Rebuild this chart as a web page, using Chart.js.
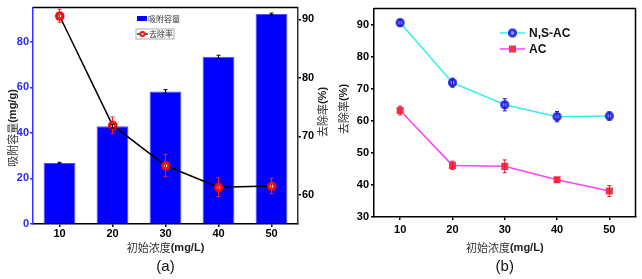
<!DOCTYPE html>
<html>
<head>
<meta charset="utf-8">
<script src="https://cdn.jsdelivr.net/npm/chart.js@4.4.1/dist/chart.umd.min.js"></script>
<style>
  body { margin: 0; background: #fff; }
  #wrap { position: relative; width: 642px; height: 279px; overflow: hidden; }
  canvas { position: absolute; top: 0; }
</style>
</head>
<body>
<div id="wrap">
  <canvas id="chartA" width="335" height="279" style="left:0"></canvas>
  <canvas id="chartB" width="322" height="279" style="left:320px"></canvas>
</div>
<script>
// data
const concentrations = [10, 20, 30, 40, 50];
const capacity = [26.8, 42.9, 58.2, 73.4, 92.2];
const capacityErr = [0.3, 0.8, 0.8, 0.7, 0.4];
const removalNSAC = [90.6, 71.9, 65.0, 61.3, 61.5];
const removalNSACErr = [1.1, 1.4, 1.9, 1.6, 1.3];
const removalAC = [63.2, 46.1, 45.8, 41.6, 38.1];
const removalACErr = [1.4, 1.3, 2.0, 0.6, 1.7];
const capacityTicks = [0, 20, 40, 60, 80];
const removalTicksA = [60, 70, 80, 90];
const removalTicksB = [30, 40, 50, 60, 70, 80, 90];

const tickFont = { family: 'Liberation Sans', size: 11, weight: 'bold' };
const CJK = '11px "Noto Sans CJK SC"';
const LAT = 'bold 11px "Liberation Sans"';

function ball(r, light, base, dark, spot) {
  const c = document.createElement('canvas');
  c.width = c.height = r * 2 + 2;
  const g = c.getContext('2d');
  const grad = g.createRadialGradient(r + 1, r + 1, 0, r + 1, r + 1, r);
  grad.addColorStop(0, light);
  grad.addColorStop(spot, light);
  grad.addColorStop(spot + 0.2, base);
  grad.addColorStop(1, dark);
  g.fillStyle = grad;
  g.beginPath();
  g.arc(r + 1, r + 1, r, 0, Math.PI * 2);
  g.fill();
  return c;
}
const redBall = ball(4.8, '#ffffff', '#ff1a1a', '#e00000', 0.18);
const redBallSmall = ball(3, '#ffffff', '#ff1a1a', '#e00000', 0.18);
const blueBall = ball(4.5, '#9c9cff', '#3b3bff', '#1a1ad0', 0.25);

function onlyTicks(list) {
  return s => { s.ticks = list.map(v => ({ value: v })); };
}

function drawText(ctx, parts, x, y, rot) {
  ctx.save();
  ctx.translate(x, y);
  ctx.rotate(rot || 0);
  ctx.textBaseline = 'middle';
  ctx.textAlign = 'left';
  let w = 0;
  parts.forEach(p => { ctx.font = p.font; w += ctx.measureText(p.text).width; });
  let cx = -w / 2;
  parts.forEach(p => {
    ctx.font = p.font;
    ctx.fillStyle = p.color || '#222';
    ctx.fillText(p.text, cx, 0);
    cx += ctx.measureText(p.text).width;
  });
  ctx.restore();
}

const errorBars = {
  id: 'errorBars',
  afterDatasetsDraw(chart) {
    const ctx = chart.ctx;
    chart.data.datasets.forEach((ds, i) => {
      if (!ds.errors) return;
      const meta = chart.getDatasetMeta(i);
      const scale = chart.scales[meta.yAxisID];
      ctx.save();
      ctx.strokeStyle = ds.errorColor;
      ctx.lineWidth = 1;
      meta.data.forEach((el, j) => {
        const v = typeof ds.data[j] === 'object' ? ds.data[j].y : ds.data[j];
        const e = ds.errors[j];
        const top = scale.getPixelForValue(v + e);
        const bot = scale.getPixelForValue(v - e);
        ctx.beginPath();
        ctx.moveTo(el.x, top); ctx.lineTo(el.x, bot);
        ctx.moveTo(el.x - 2, top); ctx.lineTo(el.x + 2, top);
        ctx.moveTo(el.x - 2, bot); ctx.lineTo(el.x + 2, bot);
        ctx.stroke();
      });
      ctx.restore();
    });
  }
};

// ---- panel (a)
const decoA = {
  id: 'decoA',
  afterDraw(chart) {
    const ctx = chart.ctx, a = chart.chartArea;
    ctx.save();
    ctx.strokeStyle = '#000';
    ctx.lineWidth = 1.5;
    ctx.beginPath();
    ctx.moveTo(a.left, a.top); ctx.lineTo(a.right, a.top);
    ctx.stroke();

    // legend
    ctx.fillStyle = '#0000ff';
    ctx.fillRect(137, 16, 10, 5);
    ctx.font = '8px "Noto Sans CJK SC"';
    ctx.fillStyle = '#333';
    ctx.textBaseline = 'middle';
    ctx.fillText('吸附容量', 148, 18.5);
    ctx.strokeStyle = '#999';
    ctx.lineWidth = 0.8;
    ctx.strokeRect(136, 29, 38, 10);
    ctx.strokeStyle = '#000';
    ctx.lineWidth = 1.2;
    ctx.beginPath(); ctx.moveTo(137, 34); ctx.lineTo(148, 34); ctx.stroke();
    ctx.drawImage(redBallSmall, 142.5 - 4, 34 - 4);
    ctx.fillStyle = '#333';
    ctx.fillText('去除率', 149, 34);
    ctx.restore();

    const mid = (a.left + a.right) / 2;
    drawText(ctx, [{ text: '吸附容量', font: CJK, color: '#333' }, { text: '(mg/g)', font: LAT }], 13, 128, -Math.PI / 2);
    drawText(ctx, [{ text: '去除率', font: CJK, color: '#333' }, { text: '(%)', font: LAT }], 323, 112, -Math.PI / 2);
    drawText(ctx, [{ text: '初始浓度', font: CJK, color: '#333' }, { text: '(mg/L)', font: LAT }], mid, 248);
    drawText(ctx, [{ text: '(a)', font: '15px "Liberation Sans"', color: '#111' }], mid, 267);
  }
};

new Chart(document.getElementById('chartA'), {
  type: 'bar',
  data: {
    labels: concentrations.map(String),
    datasets: [
      {
        type: 'line',
        label: '去除率',
        data: removalNSAC,
        yAxisID: 'y1',
        borderColor: '#000',
        borderWidth: 1.5,
        pointStyle: redBall,
        pointRadius: 5,
        errors: removalNSACErr,
        errorColor: '#ff1a1a',
        order: 0
      },
      {
        type: 'bar',
        label: '吸附容量',
        data: capacity,
        yAxisID: 'y',
        backgroundColor: '#0000ff',
        borderColor: '#4d4dff',
        borderWidth: 1,
        barPercentage: 0.6,
        categoryPercentage: 1,
        errors: capacityErr,
        errorColor: '#000',
        order: 1
      }
    ]
  },
  options: {
    responsive: false,
    animation: false,
    layout: { padding: { top: 3, left: 0, right: 0, bottom: 0 } },
    plugins: { legend: { display: false }, tooltip: { enabled: false } },
    scales: {
      x: {
        offset: true,
        grid: { drawOnChartArea: false, offset: false, tickLength: 3, color: '#000', lineWidth: 1.5 },
        border: { color: '#000', width: 1.5 },
        ticks: { font: tickFont, color: '#000', padding: 0, maxRotation: 0 },
        afterFit: s => { s.height = 55; }
      },
      y: {
        position: 'left',
        min: 0,
        max: 95,
        afterBuildTicks: onlyTicks(capacityTicks),
        grid: { drawOnChartArea: false, tickLength: 3, color: '#3333ff', lineWidth: 1.5 },
        border: { color: '#3333ff', width: 1.5 },
        ticks: { font: tickFont, color: '#2a2aff', padding: 1 },
        afterFit: s => { s.width = 33; }
      },
      y1: {
        position: 'right',
        min: 55,
        max: 92,
        afterBuildTicks: onlyTicks(removalTicksA),
        grid: { drawOnChartArea: false, tickLength: 3, color: '#000', lineWidth: 1.5 },
        border: { color: '#333', width: 1.5 },
        ticks: { font: tickFont, color: '#000', padding: 1 },
        afterFit: s => { s.width = 37; }
      }
    }
  },
  plugins: [errorBars, decoA]
});

// ---- panel (b)
const decoB = {
  id: 'decoB',
  afterDraw(chart) {
    const ctx = chart.ctx, a = chart.chartArea;
    ctx.save();
    ctx.strokeStyle = '#000';
    ctx.lineWidth = 1.5;
    ctx.beginPath();
    ctx.moveTo(a.left, a.top); ctx.lineTo(a.right, a.top); ctx.lineTo(a.right, a.bottom);
    ctx.stroke();

    // legend
    ctx.lineWidth = 1.5;
    ctx.strokeStyle = '#33f0f0';
    ctx.beginPath(); ctx.moveTo(180, 33); ctx.lineTo(205, 33); ctx.stroke();
    ctx.drawImage(blueBall, 192.5 - 5.5, 33 - 5.5);
    ctx.strokeStyle = '#ff40ff';
    ctx.beginPath(); ctx.moveTo(180, 49); ctx.lineTo(205, 49); ctx.stroke();
    ctx.fillStyle = '#f5334a';
    ctx.fillRect(189, 45.5, 7, 7);
    ctx.fillStyle = '#111';
    ctx.font = 'bold 12px "Liberation Sans"';
    ctx.textBaseline = 'middle';
    ctx.fillText('N,S-AC', 209, 33.5);
    ctx.fillText('AC', 209, 49.5);
    ctx.restore();

    const mid = (a.left + a.right) / 2;
    drawText(ctx, [{ text: '去除率', font: CJK, color: '#333' }, { text: '(%)', font: LAT }], 24, 109, -Math.PI / 2);
    drawText(ctx, [{ text: '初始浓度', font: CJK, color: '#333' }, { text: '(mg/L)', font: LAT }], mid, 248);
    drawText(ctx, [{ text: '(b)', font: '15px "Liberation Sans"', color: '#111' }], mid, 267);
  }
};

new Chart(document.getElementById('chartB'), {
  type: 'line',
  data: {
    datasets: [
      {
        label: 'N,S-AC',
        data: concentrations.map((c, i) => ({ x: c, y: removalNSAC[i] })),
        borderColor: '#33f0f0',
        borderWidth: 1.5,
        pointStyle: blueBall,
        pointRadius: 5,
        errors: removalNSACErr,
        errorColor: '#1a1ab0'
      },
      {
        label: 'AC',
        data: concentrations.map((c, i) => ({ x: c, y: removalAC[i] })),
        borderColor: '#ff40ff',
        borderWidth: 1.5,
        pointStyle: 'rect',
        pointRadius: 5,
        pointBackgroundColor: '#f5334a',
        pointBorderWidth: 0,
        errors: removalACErr,
        errorColor: '#e01a30'
      }
    ]
  },
  options: {
    responsive: false,
    animation: false,
    layout: { padding: { top: 4, left: 0, right: 3, bottom: 0 } },
    plugins: { legend: { display: false }, tooltip: { enabled: false } },
    scales: {
      x: {
        type: 'linear',
        min: 5,
        max: 55,
        afterBuildTicks: onlyTicks(concentrations),
        grid: { drawOnChartArea: false, tickLength: 3, color: '#000', lineWidth: 1.5 },
        border: { color: '#000', width: 1.5 },
        ticks: { font: tickFont, color: '#000', padding: 3, maxRotation: 0 },
        afterFit: s => { s.height = 62; }
      },
      y: {
        min: 30,
        max: 95,
        afterBuildTicks: onlyTicks(removalTicksB),
        grid: { drawOnChartArea: false, tickLength: 3, color: '#000', lineWidth: 1.5 },
        border: { color: '#000', width: 1.5 },
        ticks: { font: tickFont, color: '#000', padding: 2 },
        afterFit: s => { s.width = 54; }
      }
    }
  },
  plugins: [errorBars, decoB]
});
</script>
</body>
</html>
